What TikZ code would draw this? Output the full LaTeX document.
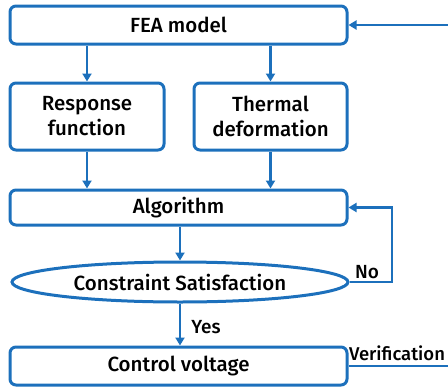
\documentclass[tikz,border=0pt]{standalone}
\usepackage{fontspec}
\setmainfont{Fira Sans}[BoldFont={Fira Sans Medium}]
\usetikzlibrary{arrows.meta,shapes.geometric}
\definecolor{fb}{RGB}{28,112,188}
\begin{document}
\begin{tikzpicture}[x=1pt,y=-1pt,
  box/.style={draw=fb,line width=3pt,rounded corners=6pt,align=center,inner sep=0pt,
    font=\fontsize{20.5}{25}\selectfont\bfseries},
  ell/.style={draw=fb,line width=3pt,ellipse,inner sep=0pt,
    font=\fontsize{20.5}{25}\selectfont\bfseries},
  conn/.style={draw=fb,line width=2.8pt},
  arr/.style={conn,-{Triangle[length=8pt,width=9pt]}},
  lab/.style={font=\fontsize{19}{22}\selectfont\bfseries,inner sep=0pt}]
\useasboundingbox (0,0) rectangle (448,389);
\node[box,minimum width=337pt,minimum height=38pt] (fea) at (178.5,25) {FEA model};
\node[box,minimum width=154pt,minimum height=67pt] (resp) at (87,116.5) {Response\\function};
\node[box,minimum width=153pt,minimum height=67pt] (therm) at (270.5,116.5) {Thermal\\deformation};
\node[box,minimum width=337pt,minimum height=35pt] (algo) at (178.5,207.5) {Algorithm};
\node[ell,minimum width=336pt,minimum height=40pt] (cs) at (180,282) {Constraint Satisfaction};
\node[box,minimum width=337pt,minimum height=38pt] (ctrl) at (178.5,366) {Control voltage};
\coordinate (noc) at (392,0);
\coordinate (vr) at (452,366);
\draw[arr] (fea.south -| resp.north) -- (resp.north);
\draw[arr] (fea.south -| therm.north) -- (therm.north);
\draw[arr] (resp.south) -- (resp.south |- algo.north);
\draw[arr] (therm.south) -- (therm.south |- algo.north);
\draw[arr] (algo.south -| cs.north) -- (cs.north);
\draw[arr] (cs.east) -- (cs.east -| noc) |- (algo.east);
\draw[arr] (cs.south) -- (cs.south |- ctrl.north);
\draw[conn] (ctrl.east) -- (vr);
\draw[arr] (vr |- fea.east) -- (fea.east);
\node[lab] (no) at (367,272) {No};
\node[lab] (yes) at (206,327) {Yes};
\node[lab,font=\fontsize{18.5}{22}\selectfont\bfseries] (ver) at (397,353) {Verification};
\end{tikzpicture}
\end{document}
